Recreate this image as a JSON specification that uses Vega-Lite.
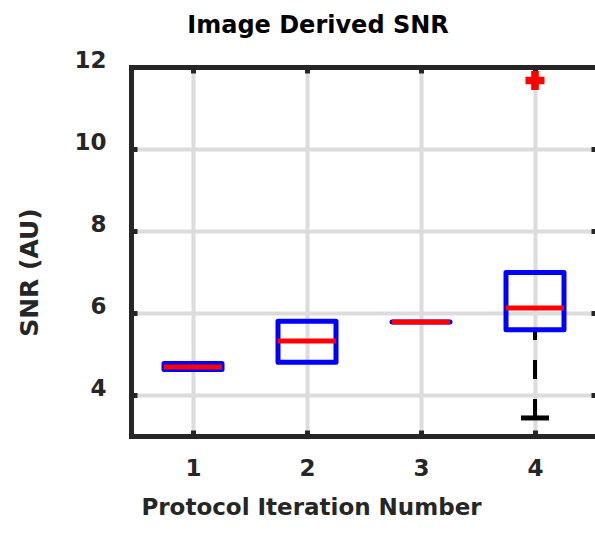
{
  "$schema": "https://vega.github.io/schema/vega-lite/v6.json",
  "autosize": "none",
  "padding": {"left": 131, "top": 67, "right": 0, "bottom": 98},
  "width": 466,
  "height": 369,
  "background": "white",
  "title": {
    "text": "Image Derived SNR",
    "font": "DejaVu Sans",
    "fontSize": 24,
    "fontWeight": "bold",
    "color": "#000000",
    "anchor": "middle",
    "frame": "group",
    "dx": -46,
    "offset": 11
  },
  "config": {
    "view": {"stroke": null},
    "axis": {
      "labelFont": "DejaVu Sans",
      "labelFontSize": 23,
      "labelFontWeight": "bold",
      "labelColor": "#262626",
      "titleFont": "DejaVu Sans",
      "titleFontSize": 23,
      "titleFontWeight": "bold",
      "titleColor": "#262626",
      "domainColor": "#262626",
      "domainWidth": 5,
      "domainCap": "square",
      "tickColor": "#262626",
      "tickWidth": 5,
      "tickSize": -6,
      "gridColor": "#dcdcdc",
      "gridWidth": 4,
      "gridOpacity": 1
    }
  },
  "datasets": {
    "boxes": [
      {"iter": 1, "q1": 4.62, "q3": 4.77, "median": 4.68},
      {"iter": 2, "q1": 4.80, "q3": 5.80, "median": 5.32},
      {"iter": 3, "q1": 5.78, "q3": 5.78, "median": 5.78},
      {"iter": 4, "q1": 5.59, "q3": 6.99, "median": 6.12}
    ],
    "whiskers": [
      {"iter": 4, "lower": 3.44, "q1": 5.59}
    ],
    "outliers": [
      {"iter": 4, "value": 11.67}
    ]
  },
  "resolve": {"axis": {"x": "independent", "y": "independent"}},
  "layer": [
    {
      "data": {"name": "whiskers"},
      "mark": {"type": "rule", "color": "#000000", "strokeWidth": 4, "strokeDash": [19, 20]},
      "encoding": {
        "x": {"field": "iter", "type": "quantitative", "scale": {"domain": [0.5, 4.5], "nice": false, "zero": false},
          "axis": {
            "orient": "bottom", "values": [1, 2, 3, 4], "format": "d", "grid": true,
            "labelPadding": 27, "title": "Protocol Iteration Number",
            "titleX": 180, "titleY": 78, "titleBaseline": "alphabetic", "titleAnchor": null
          }},
        "y": {"field": "lower", "type": "quantitative", "scale": {"domain": [3, 12], "nice": false, "zero": false},
          "axis": {
            "orient": "left", "values": [4, 6, 8, 10, 12], "format": "d", "grid": true,
            "labelPadding": 31, "labelOffset": -7, "title": "SNR (AU)", "titleFontSize": 25,
            "titleX": -102, "titleY": 205, "titleBaseline": "middle", "titleAngle": -90
          }},
        "y2": {"field": "q1"}
      }
    },
    {
      "data": {"name": "whiskers"},
      "mark": {"type": "tick", "orient": "horizontal", "color": "#000000", "size": 28, "thickness": 5, "opacity": 1},
      "encoding": {
        "x": {"field": "iter", "type": "quantitative", "scale": {"domain": [0.5, 4.5], "nice": false, "zero": false}, "axis": null},
        "y": {"field": "lower", "type": "quantitative", "scale": {"domain": [3, 12], "nice": false, "zero": false}, "axis": null}
      }
    },
    {
      "data": {"name": "boxes"},
      "mark": {"type": "bar", "size": 58, "fill": "white", "fillOpacity": 0, "stroke": "#0000ff", "strokeWidth": 5, "strokeJoin": "round"},
      "encoding": {
        "x": {"field": "iter", "type": "quantitative", "scale": {"domain": [0.5, 4.5], "nice": false, "zero": false}, "axis": null},
        "y": {"field": "q1", "type": "quantitative", "scale": {"domain": [3, 12], "nice": false, "zero": false}, "axis": null},
        "y2": {"field": "q3"}
      }
    },
    {
      "data": {"name": "boxes"},
      "mark": {"type": "tick", "orient": "horizontal", "color": "#ff0000", "size": 58, "thickness": 5, "opacity": 1},
      "encoding": {
        "x": {"field": "iter", "type": "quantitative", "scale": {"domain": [0.5, 4.5], "nice": false, "zero": false},
          "axis": {"orient": "top", "values": [1, 2, 3, 4], "labels": false, "grid": false, "title": null}},
        "y": {"field": "median", "type": "quantitative", "scale": {"domain": [3, 12], "nice": false, "zero": false},
          "axis": {"orient": "right", "values": [4, 6, 8, 10, 12], "labels": false, "grid": false, "title": null}}
      }
    },
    {
      "data": {"name": "outliers"},
      "mark": {"type": "point", "shape": "cross", "filled": true, "color": "#ff0000", "size": 361, "opacity": 1, "strokeWidth": 0},
      "encoding": {
        "x": {"field": "iter", "type": "quantitative", "scale": {"domain": [0.5, 4.5], "nice": false, "zero": false}, "axis": null},
        "y": {"field": "value", "type": "quantitative", "scale": {"domain": [3, 12], "nice": false, "zero": false}, "axis": null}
      }
    }
  ]
}
